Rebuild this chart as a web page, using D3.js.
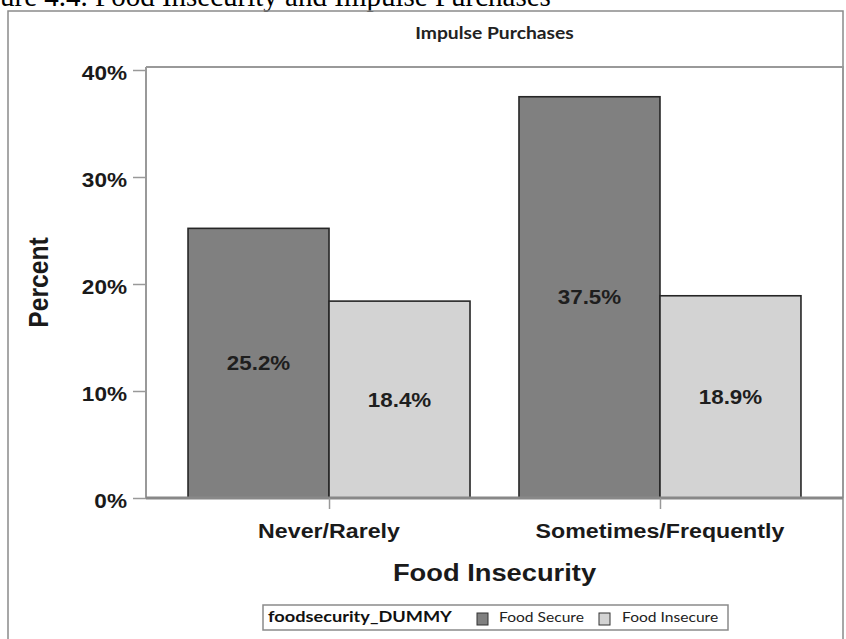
<!DOCTYPE html>
<html>
<head>
<meta charset="utf-8">
<script src="https://cdn.jsdelivr.net/npm/d3@7"></script>
<style>
  html, body { margin: 0; padding: 0; background: #fff; }
  svg { display: block; }
</style>
</head>
<body>
<svg id="chart" width="846" height="639"></svg>
<script>
// ---- data ----
const categories = ["Never/Rarely", "Sometimes/Frequently"];
const seriesNames = ["Food Secure", "Food Insecure"];
const foodSecure = [25.2, 37.5];
const foodInsecure = [18.4, 18.9];
const yTicks = [0, 10, 20, 30, 40];

const seriesValues = [foodSecure, foodInsecure];
const seriesFill = ["#808080", "#d3d3d3"];

// ---- layout ----
const W = 846, H = 639;
const plot = { left: 146, right: 843, top: 67, bottom: 498 };
const SY = 0.88; // vertical squash applied to text glyphs
const sans = "'Liberation Sans', Arial, sans-serif";
const calibriLike = "Lato, 'Open Sans', sans-serif";

const svg = d3.select("#chart");

// helper: text drawn at (x, y) with glyphs squashed vertically
function label(parent, x, y, str, o) {
  const g = parent.append("g")
    .attr("transform", `translate(${x},${y}) scale(1,${SY})${o.rotate ? ` rotate(${o.rotate})` : ""}`);
  return g.append("text")
    .attr("x", 0).attr("y", 0)
    .attr("text-anchor", o.anchor || "middle")
    .attr("dominant-baseline", o.baseline || "alphabetic")
    .style("font-family", o.family || sans)
    .style("font-size", o.size + "px")
    .style("font-weight", o.weight || "bold")
    .style("fill", o.fill || "#1a1a1a")
    .text(str);
}

// caption line above the chart frame
const cap = svg.append("text")
  .attr("y", 6)
  .style("font-family", "'Liberation Serif', 'Times New Roman', serif")
  .style("font-size", "29px")
  .style("fill", "#000")
  .text("Figure 4.4. Food Insecurity and Impulse Purchases");
cap.attr("x", -cap.node().getSubStringLength(0, 3));

// outer frame
svg.append("rect")
  .attr("x", 8).attr("y", 11)
  .attr("width", plot.right - 8).attr("height", H + 20)
  .attr("fill", "none").attr("stroke", "#8a8a8a").attr("stroke-width", 1.5);

// ---- scales ----
const x0 = d3.scaleBand().domain(categories)
  .range([plot.left, plot.right]).paddingInner(0.148).paddingOuter(0.127);
const x1 = d3.scaleBand().domain(seriesNames).range([0, x0.bandwidth()]).padding(0);
const y = d3.scaleLinear().domain([0, 40]).range([plot.bottom, 70]);

// plot frame (top and right)
svg.append("path")
  .attr("d", `M${plot.left},${plot.top}H${plot.right}V${plot.bottom}`)
  .attr("fill", "none").attr("stroke", "#999").attr("stroke-width", 2);

// ---- bars ----
const groups = svg.append("g").selectAll("g")
  .data(categories).join("g")
  .attr("transform", d => `translate(${x0(d)},0)`);

groups.selectAll("rect")
  .data((c, i) => seriesNames.map((s, j) => ({ s, j, v: seriesValues[j][i] })))
  .join("rect")
  .attr("x", d => x1(d.s))
  .attr("y", d => y(d.v))
  .attr("width", x1.bandwidth())
  .attr("height", d => y(0) - y(d.v))
  .attr("fill", d => seriesFill[d.j])
  .attr("stroke", "#262626")
  .attr("stroke-width", 1.6);

groups.each(function (c, i) {
  const g = d3.select(this);
  seriesNames.forEach((s, j) => {
    const v = seriesValues[j][i];
    label(g, x1(s) + x1.bandwidth() / 2, (y(v) + y(0)) / 2, v.toFixed(1) + "%",
      { size: 22.4, baseline: "central", fill: "#1e1e1e" });
  });
});

// ---- axes ----
const yAxis = svg.append("g")
  .attr("transform", `translate(${plot.left},0)`)
  .call(d3.axisLeft(y).tickValues(yTicks).tickFormat(d => d + "%").tickSize(13).tickPadding(6));
yAxis.select(".domain").attr("d", `M0,${plot.top}V${plot.bottom}`)
  .attr("stroke", "#999").attr("stroke-width", 2);
yAxis.selectAll(".tick line").attr("stroke", "#999").attr("stroke-width", 1.5);
yAxis.selectAll(".tick text")
  .attr("dy", null).attr("y", 0)
  .attr("dominant-baseline", "central")
  .attr("transform", `translate(0,2.5) scale(1,${SY})`)
  .style("font-family", sans).style("font-size", "22.6px")
  .style("font-weight", "bold").style("fill", "#1a1a1a");

const xAxis = svg.append("g")
  .attr("transform", `translate(0,${plot.bottom})`)
  .call(d3.axisBottom(d3.scalePoint().domain(categories)
      .range([x0(categories[0]) + x0.bandwidth() / 2, x0(categories[1]) + x0.bandwidth() / 2]))
    .tickSize(11).tickFormat(""));
xAxis.select(".domain").attr("d", `M${plot.left},0H${plot.right}`)
  .attr("stroke", "#888").attr("stroke-width", 3);
xAxis.selectAll(".tick line").attr("stroke", "#999").attr("stroke-width", 1.5);

categories.forEach(c => {
  label(svg, x0(c) + x0.bandwidth() / 2, 538, c, { size: 23.2 });
});

// axis titles
label(svg, (plot.left + plot.right) / 2, 581, "Food Insecurity", { size: 27.3 });
label(svg, 48, (plot.top + plot.bottom) / 2, "Percent", { size: 28, rotate: -90 });

// chart title
label(svg, (plot.left + plot.right) / 2, 39, "Impulse Purchases",
  { size: 19.3, family: calibriLike, weight: "bold", fill: "#222" });

// ---- legend ----
const legend = svg.append("g");
legend.append("rect")
  .attr("x", 263).attr("y", 605).attr("width", 465).attr("height", 25)
  .attr("fill", "#fff").attr("stroke", "#8a8a8a").attr("stroke-width", 1.5);
label(legend, 268, 622, "foodsecurity_DUMMY",
  { size: 18.2, family: calibriLike, weight: "bold", anchor: "start", fill: "#111" });

const legendItems = [
  { sx: 477, tx: 499 },
  { sx: 599, tx: 622 }
];
seriesNames.forEach((s, j) => {
  legend.append("rect")
    .attr("x", legendItems[j].sx).attr("y", 613).attr("width", 11).attr("height", 12)
    .attr("fill", seriesFill[j]).attr("stroke", "#333").attr("stroke-width", 1);
  label(legend, legendItems[j].tx, 622, s,
    { size: 15.6, family: calibriLike, weight: "normal", anchor: "start", fill: "#222" });
});
</script>
</body>
</html>
